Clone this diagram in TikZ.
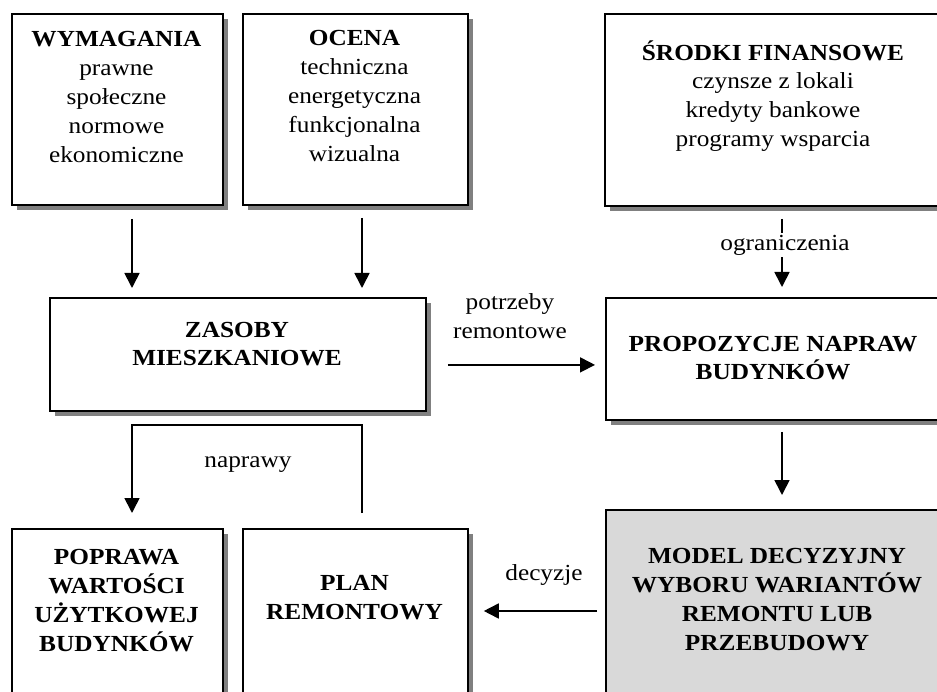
\documentclass[tikz,border=0pt]{standalone}
\usepackage{fontspec}
\setmainfont{Liberation Serif}[FakeStretch=1.1]
\usetikzlibrary{arrows.meta,shadows}
\definecolor{shad}{RGB}{128,128,128}
\definecolor{mfill}{RGB}{217,217,217}
\begin{document}
\begin{tikzpicture}[x=1pt,y=-1pt,
  box/.style={draw=black, line width=1.8pt, fill=white, anchor=north west, inner sep=0pt,
    drop shadow={shadow xshift=5.5pt, shadow yshift=-5.5pt, fill=shad, opacity=1}},
  txt/.style={align=center, inner sep=0pt, font=\fontsize{23}{28.8}\selectfont},
  lbl/.style={align=center, inner sep=2pt, font=\fontsize{23}{28.8}\selectfont},
  arr/.style={line width=1.7pt, -{Triangle[length=15pt,width=15pt]}},
  plain/.style={line width=1.7pt}
]
\useasboundingbox (0,0) rectangle (937,692);
\clip (0,0) rectangle (937,692);
% boxes
\node[box, minimum width=211pt, minimum height=191pt] (wym) at (11,13) {};
\node[box, minimum width=225pt, minimum height=191pt] (oce) at (242,13) {};
\node[box, minimum width=340pt, minimum height=192pt] (sro) at (604,13) {};
\node[box, minimum width=376pt, minimum height=113pt] (zas) at (49,297) {};
\node[box, minimum width=340pt, minimum height=122pt] (pro) at (605,297) {};
\node[box, minimum width=211pt, minimum height=200pt] (pop) at (11,528) {};
\node[box, minimum width=225pt, minimum height=200pt] (pla) at (242,528) {};
\node[box, fill=mfill, minimum width=340pt, minimum height=220pt] (mod) at (605,509) {};
% texts
\node[txt] (twym) at (116.5,97) {\textbf{WYMAGANIA}\\prawne\\społeczne\\normowe\\ekonomiczne};
\node[txt] (toce) at (354.5,96) {\textbf{OCENA}\\techniczna\\energetyczna\\funkcjonalna\\wizualna};
\node[txt] (tsro) at (773,96) {\textbf{ŚRODKI FINANSOWE}\\czynsze z lokali\\kredyty bankowe\\programy wsparcia};
\node[txt, font=\fontsize{23}{28.8}\selectfont\bfseries] (tzas) at (237,344) {ZASOBY\\MIESZKANIOWE};
\node[txt, font=\fontsize{23}{28.8}\selectfont\bfseries] (tpro) at (773,358) {PROPOZYCJE NAPRAW\\BUDYNKÓW};
\node[txt, font=\fontsize{23}{28.8}\selectfont\bfseries] (tpop) at (116.5,600.5) {POPRAWA\\WARTOŚCI\\UŻYTKOWEJ\\BUDYNKÓW};
\node[txt, font=\fontsize{23}{28.8}\selectfont\bfseries] (tpla) at (354.5,597.5) {PLAN\\REMONTOWY};
\node[txt, font=\fontsize{23}{28.8}\selectfont\bfseries] (tmod) at (777,599.5) {MODEL DECYZYJNY\\WYBORU WARIANTÓW\\REMONTU LUB\\PRZEBUDOWY};
% connectors
\coordinate (cw) at (132,0);
\coordinate (co) at (362,0);
\coordinate (cs) at (782,0);
\coordinate (np) at (0,425);
\draw[arr, shorten <=13pt, shorten >=9pt] (cw |- wym.south) -- (cw |- zas.north);
\draw[arr, shorten <=12pt, shorten >=9pt] (co |- oce.south) -- (co |- zas.north);
\draw[arr, shorten <=12pt, shorten >=10pt] (cs |- sro.south) -- (cs |- pro.north);
\node[lbl, fill=white] (logr) at (785,245) {ograniczenia};
\draw[arr] ([shift={(21,10.5)}]zas.east) -- ([shift={(-10,10.5)}]zas.east -| pro.west);
\node[lbl] (lpot) at (510,316) {potrzeby\\remontowe};
\draw[arr, shorten <=11pt, shorten >=14pt] (cs |- pro.south) -- (cs |- mod.north);
\draw[arr] ([shift={(-8,0)}]mod.west |- 0,611) -- ([shift={(15,0)}]pla.east |- 0,611);
\node[lbl] (ldec) at (544,575) {decyzje};
\draw[arr, shorten <=15pt, shorten >=15pt] (co |- pla.north) -- (co |- np) -- (cw |- np) -- (cw |- pop.north);
\node[lbl] (lnap) at (248,465) {naprawy};
\end{tikzpicture}
\end{document}
